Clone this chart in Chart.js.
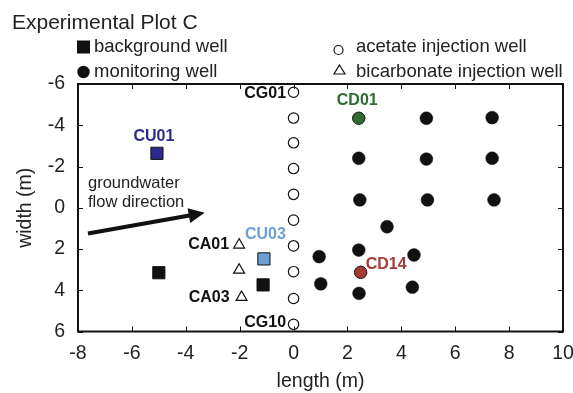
<!DOCTYPE html>
<html><head><meta charset="utf-8">
<script src="https://cdn.jsdelivr.net/npm/chart.js@4"></script>
<style>html,body{margin:0;padding:0;background:#fff;}#wrap{width:573px;height:393px;}</style>
</head><body><div id="wrap"><canvas id="c" width="573" height="393"></canvas></div>
<script>
// ---- data ----
const xTickValues = [-8,-6,-4,-2,0,2,4,6,8,10];
const xTickLabels = ['-8','-6','-4','-2','0','2','4','6','8','10'];
const yTickValues = [-6,-4,-2,0,2,4,6];
const yTickLabels = ['-6','-4','-2','0','2','4','6'];

const acetateX = [0,0,0,0,0,0,0,0,0,0];
const acetateY = [-5.6,-4.35,-3.15,-1.9,-0.65,0.6,1.85,3.1,4.4,5.65];

const bicarbX = [-2.02,-2.02,-1.93];
const bicarbY = [1.8,3.02,4.34];

const backgroundX = [-5.0,-1.13];
const backgroundY = [3.15,3.74];
const cu01 = [-5.07,-2.64];
const cu03 = [-1.10,2.48];

const monitorX = [4.93,7.37,2.42,4.93,7.37,2.46,4.97,7.44,3.47,0.95,2.42,4.47,1.01,2.43,4.41];
const monitorY = [-4.34,-4.37,-2.40,-2.36,-2.40,-0.38,-0.38,-0.38,0.92,2.37,2.05,2.29,3.69,4.15,3.85];
const cd01 = [2.42,-4.34];
const cd14 = [2.49,3.13];

const arrowFrom = [-7.63,1.25];
const arrowTo = [-3.30,0.24];
const flowText = ['groundwater','flow direction'];
const flowTextY = [-1.19,-0.27];

const titleText = 'Experimental Plot C';
const legendLabels = ['background well','monitoring well','acetate injection well','bicarbonate injection well'];
const xTitle = 'length (m)';
const yTitle = 'width (m)';

// ---- build ----
const FONT = "'Liberation Sans', Arial, sans-serif";
const pts = (xs, ys) => xs.map((x,i)=>({x, y: ys[i]}));
const lab = (vals, labels) => (v) => { const i = vals.indexOf(Math.round(v*1000)/1000); return i < 0 ? '' : labels[i]; };

const datasets = [
  {label:'acetate', data: pts(acetateX, acetateY), pointStyle:'circle', pointRadius:5.2, backgroundColor:'#fff', borderColor:'#111', borderWidth:1.2},
  {label:'bicarbonate', data: pts(bicarbX, bicarbY), pointStyle:'triangle', pointRadius:6.3, backgroundColor:'#fff', borderColor:'#111', borderWidth:1.2},
  {label:'background', data: pts(backgroundX, backgroundY), pointStyle:'rect', pointRadius:8.6, backgroundColor:'#111', borderColor:'#111', borderWidth:1},
  {label:'CU01', data: [{x:cu01[0], y:cu01[1]}], pointStyle:'rect', pointRadius:8.6, backgroundColor:'#2d2a8e', borderColor:'#111', borderWidth:1},
  {label:'CU03', data: [{x:cu03[0], y:cu03[1]}], pointStyle:'rect', pointRadius:8.6, backgroundColor:'#6b9fd6', borderColor:'#111', borderWidth:1},
  {label:'monitoring', data: pts(monitorX, monitorY), pointStyle:'circle', pointRadius:6.4, backgroundColor:'#111', borderColor:'#111', borderWidth:0.5},
  {label:'CD01', data: [{x:cd01[0], y:cd01[1]}], pointStyle:'circle', pointRadius:6.2, backgroundColor:'#2f6b32', borderColor:'#111', borderWidth:1},
  {label:'CD14', data: [{x:cd14[0], y:cd14[1]}], pointStyle:'circle', pointRadius:6.2, backgroundColor:'#a63b36', borderColor:'#111', borderWidth:1}
];

// labels: [text, datasetIndex, pointIndex, dx, dy, align, color]
const wellLabels = [
  ['CG01',0,0,-7.5,1.5,'right','#111'],
  ['CG10',0,9,-7.5,-1.5,'right','#111'],
  ['CA01',1,0,-10,0,'right','#111'],
  ['CA03',1,2,-12,0,'right','#111'],
  ['CU01',3,0,-3,-16.5,'center','#2d2a8e'],
  ['CU03',4,0,1.5,-24,'center','#6b9fd6'],
  ['CD01',6,0,-1.5,-17.5,'center','#2f6b32'],
  ['CD14',7,0,5,-8,'left','#a63b36']
];

const decor = {
  id:'decor',
  afterDraw(chart){
    const ctx = chart.ctx, a = chart.chartArea, xs = chart.scales.x, ys = chart.scales.y;
    ctx.save();
    // ticks
    ctx.strokeStyle = '#111'; ctx.lineWidth = 1;
    xs.ticks.forEach(t=>{
      const px = Math.round(xs.getPixelForValue(t.value))+0.5;
      ctx.beginPath(); ctx.moveTo(px,a.bottom); ctx.lineTo(px,a.bottom-5);
      ctx.moveTo(px,a.top); ctx.lineTo(px,a.top+5); ctx.stroke();
    });
    ys.ticks.forEach(t=>{
      const py = Math.round(ys.getPixelForValue(t.value))+0.5;
      ctx.beginPath(); ctx.moveTo(a.left,py); ctx.lineTo(a.left+5,py);
      ctx.moveTo(a.right,py); ctx.lineTo(a.right-5,py); ctx.stroke();
    });
    // frame
    ctx.lineWidth = 2; ctx.strokeStyle = '#111';
    ctx.strokeRect(a.left, a.top, a.right-a.left, a.bottom-a.top);

    // arrow
    const x0 = xs.getPixelForValue(arrowFrom[0]), y0 = ys.getPixelForValue(arrowFrom[1]);
    const x1 = xs.getPixelForValue(arrowTo[0]), y1 = ys.getPixelForValue(arrowTo[1]);
    const ang = Math.atan2(y1-y0, x1-x0), hl = 16, hw = 7.5;
    const bx = x1 - hl*Math.cos(ang), by = y1 - hl*Math.sin(ang);
    ctx.lineWidth = 4; ctx.lineCap='butt';
    ctx.beginPath(); ctx.moveTo(x0,y0); ctx.lineTo(bx+2*Math.cos(ang),by+2*Math.sin(ang)); ctx.stroke();
    ctx.fillStyle = '#111';
    ctx.beginPath(); ctx.moveTo(x1,y1);
    ctx.lineTo(bx + hw*Math.sin(ang), by - hw*Math.cos(ang));
    ctx.lineTo(bx - hw*Math.sin(ang), by + hw*Math.cos(ang));
    ctx.closePath(); ctx.fill();

    // flow text
    ctx.font = '16.5px ' + FONT; ctx.fillStyle = '#222'; ctx.textAlign='left'; ctx.textBaseline='middle';
    flowText.forEach((s,i)=> ctx.fillText(s, x0, ys.getPixelForValue(flowTextY[i])));

    // well labels
    ctx.font = 'bold 16px ' + FONT;
    wellLabels.forEach(l=>{
      const el = chart.getDatasetMeta(l[1]).data[l[2]];
      ctx.fillStyle = l[6]; ctx.textAlign = l[5]; ctx.textBaseline='middle';
      ctx.fillText(l[0], el.x + l[3], el.y + l[4]);
    });

    // title & legend
    ctx.fillStyle = '#222'; ctx.textAlign='left'; ctx.textBaseline='middle';
    ctx.font = '21px ' + FONT;
    ctx.fillText(titleText, 12, 23);
    ctx.font = '18.5px ' + FONT;
    ctx.fillStyle = '#111';
    ctx.fillRect(77, 40.5, 13, 13);
    ctx.beginPath(); ctx.arc(83.5, 72, 6.2, 0, Math.PI*2); ctx.fill();
    ctx.fillStyle = '#222';
    ctx.fillText(legendLabels[0], 94, 47);
    ctx.fillText(legendLabels[1], 94, 72);
    ctx.strokeStyle = '#111'; ctx.lineWidth = 1.2;
    ctx.beginPath(); ctx.arc(338.5, 50, 4.5, 0, Math.PI*2); ctx.stroke();
    ctx.beginPath(); ctx.moveTo(339.5, 65); ctx.lineTo(345, 74); ctx.lineTo(334, 74); ctx.closePath(); ctx.stroke();
    ctx.fillText(legendLabels[2], 356, 47);
    ctx.fillText(legendLabels[3], 356, 72);

    // axis titles
    ctx.font = '19.5px ' + FONT; ctx.textAlign='center';
    ctx.fillText(xTitle, (a.left+a.right)/2, 382);
    ctx.save(); ctx.translate(26, (a.top+a.bottom)/2); ctx.rotate(-Math.PI/2);
    ctx.fillText(yTitle, 0, 0); ctx.restore();
    ctx.restore();
  }
};

new Chart(document.getElementById('c'), {
  type:'scatter',
  data:{datasets},
  options:{
    responsive:false, animation:false, devicePixelRatio:1,
    layout:{padding:{top:84, right:10, left:0, bottom:0}},
    plugins:{legend:{display:false}, tooltip:{enabled:false}, title:{display:false}},
    scales:{
      x:{type:'linear', min:-8, max:10,
        ticks:{stepSize:2, padding:10, color:'#222', font:{family:FONT, size:19.5}, callback:lab(xTickValues, xTickLabels)},
        grid:{display:false, drawTicks:false}, border:{display:false},
        afterFit:s=>{s.height = 61.5; s.paddingLeft = 0; s.paddingRight = 0;}},
      y:{type:'linear', min:-6, max:6, reverse:true,
        ticks:{stepSize:2, padding:13, color:'#222', font:{family:FONT, size:19.5}, callback:lab(yTickValues, yTickLabels)},
        grid:{display:false, drawTicks:false}, border:{display:false},
        afterFit:s=>{s.width = 78; s.paddingTop = 0; s.paddingBottom = 0;}}
    }
  },
  plugins:[decor]
});
</script></body></html>
